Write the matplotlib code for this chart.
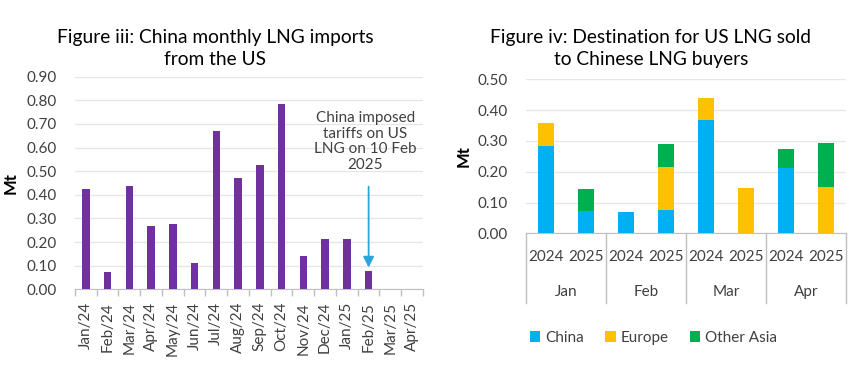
import matplotlib.pyplot as plt
import numpy as np
from matplotlib.transforms import blended_transform_factory

plt.rcParams['font.family'] = ['Lato', 'DejaVu Sans']

# --- data: figure iii ---
months = ["Jan/24", "Feb/24", "Mar/24", "Apr/24", "May/24", "Jun/24", "Jul/24", "Aug/24",
          "Sep/24", "Oct/24", "Nov/24", "Dec/24", "Jan/25", "Feb/25", "Mar/25", "Apr/25"]
imports = [0.426, 0.072, 0.439, 0.269, 0.278, 0.111, 0.670, 0.473,
           0.526, 0.786, 0.141, 0.213, 0.213, 0.078, 0.0, 0.0]

# --- data: figure iv ---
groups = ["Jan", "Feb", "Mar", "Apr"]
years = ["2024", "2025"]
china = [0.285, 0.072, 0.070, 0.076, 0.368, 0.0, 0.211, 0.0]
europe = [0.074, 0.0, 0.0, 0.139, 0.071, 0.147, 0.0, 0.150]
other_asia = [0.0, 0.071, 0.0, 0.075, 0.0, 0.0, 0.062, 0.144]

purple = "#7030A0"
c_china = "#00B0F0"
c_europe = "#FFC000"
c_asia = "#00B050"
txt = "#404040"
grid_c = "#E6E6E6"
axis_c = "#BFBFBF"

fig = plt.figure(figsize=(8.53, 3.8), dpi=100)

# ---------------- left panel ----------------
ax = fig.add_axes([0.0879, 0.2387, 0.408, 0.5595])
x = np.arange(len(months))
ax.bar(x, imports, width=0.35, color=purple, zorder=3)
ax.set_xlim(-0.5, len(months) - 0.5)
ax.set_ylim(0, 0.9)
ax.set_yticks(np.arange(0, 0.91, 0.1))
ax.set_yticklabels([f"{v:.2f}" for v in np.arange(0, 0.91, 0.1)])
ax.set_xticks(x)
ax.set_xticklabels(months, rotation=90)
ax.set_xticks(np.arange(-0.5, len(months)), minor=True)
ax.tick_params(axis='x', which='major', length=0, pad=9, labelsize=11, labelcolor=txt)
ax.tick_params(axis='x', which='minor', length=5, color=axis_c, width=1)
ax.tick_params(axis='y', length=0, pad=13, labelsize=11, labelcolor=txt)
ax.grid(axis='y', color=grid_c, lw=1, zorder=0)
for s in ['top', 'right', 'left']:
    ax.spines[s].set_visible(False)
ax.spines['bottom'].set_color(axis_c)
ax.set_ylabel("Mt", fontsize=12, fontweight='bold', color='black', labelpad=6)

ax.text(12.85, 0.625, "China imposed\ntariffs on US\nLNG on 10 Feb\n2025", ha='center', va='center',
        fontsize=11, color=txt, linespacing=1.15)
ax.annotate("", xy=(13, 0.092), xytext=(13, 0.435),
            arrowprops=dict(arrowstyle='-|>', color='#2EA4DC', lw=1.3, mutation_scale=16,
                            shrinkA=0, shrinkB=0))

fig.text(0.252, 0.925, "Figure iii: China monthly LNG imports\nfrom the US", ha='center', va='top',
         fontsize=13.8, color='black', linespacing=1.4)

# ---------------- right panel ----------------
ax2 = fig.add_axes([0.6166, 0.386, 0.3751, 0.4053])
xb = np.arange(len(china))
ax2.bar(xb, china, width=0.39, color=c_china, zorder=3, label="China")
ax2.bar(xb, europe, width=0.39, bottom=china, color=c_europe, zorder=3, label="Europe")
ax2.bar(xb, other_asia, width=0.39, bottom=np.add(china, europe), color=c_asia, zorder=3,
        label="Other Asia")
ax2.set_xlim(-0.5, len(china) - 0.5)
ax2.set_ylim(0, 0.5)
ax2.set_yticks(np.arange(0, 0.51, 0.1))
ax2.set_yticklabels([f"{v:.2f}" for v in np.arange(0, 0.51, 0.1)])
ax2.set_xticks(xb)
ax2.set_xticklabels(years * len(groups))
ax2.tick_params(axis='x', length=0, pad=12, labelsize=11, labelcolor=txt)
ax2.tick_params(axis='y', length=0, pad=13, labelsize=11, labelcolor=txt)
ax2.grid(axis='y', color=grid_c, lw=1, zorder=0)
for s in ['top', 'right', 'left']:
    ax2.spines[s].set_visible(False)
ax2.spines['bottom'].set_color(axis_c)
ax2.set_ylabel("Mt", fontsize=12, fontweight='bold', color='black', labelpad=4)

tr = blended_transform_factory(ax2.transData, ax2.transAxes)
n = len(years)
for i, g in enumerate(groups):
    ax2.text(i * n + (n - 1) / 2, -0.379, g, transform=tr, ha='center', va='center',
             fontsize=11, color=txt)
for b in np.arange(-0.5, len(china), n):
    ax2.plot([b, b], [0, -0.4526], transform=tr, color=axis_c, lw=1, clip_on=False)

fig.legend(*ax2.get_legend_handles_labels(), loc='center', bbox_to_anchor=(0.766, 1 - 338 / 380),
           ncol=3, frameon=False, fontsize=11, handlelength=0.7, handleheight=0.7,
           handletextpad=0.3, columnspacing=1.4, labelcolor=txt)

fig.text(0.763, 0.925, "Figure iv: Destination for US LNG sold\nto Chinese LNG buyers", ha='center',
         va='top', fontsize=13.8, color='black', linespacing=1.4)

fig.savefig("out.png", dpi=100)
